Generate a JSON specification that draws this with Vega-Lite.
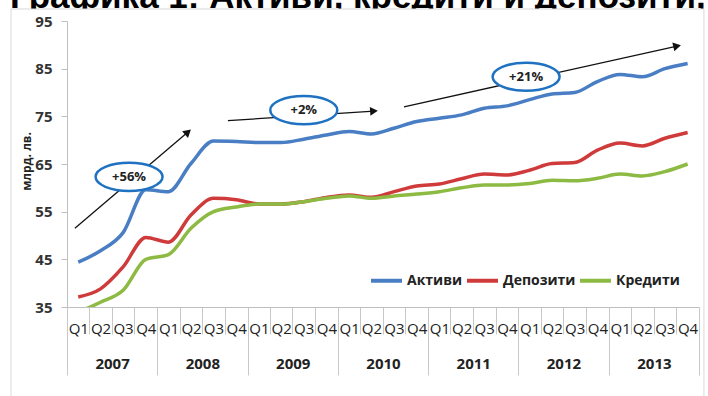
{
  "$schema": "https://vega.github.io/schema/vega-lite/v6.json",
  "width": 632,
  "height": 286,
  "autosize": {"type": "none"},
  "padding": {"left": 67, "top": 21, "right": 9, "bottom": 89},
  "background": "white",
  "config": {
    "view": {"stroke": null},
    "font": "Open Sans"
  },
  "datasets": {
    "series": [
      {"date": "2007-02-15T12:00:00", "Активи": 44.4, "Депозити": 37.1, "Кредити": 33.9},
      {"date": "2007-05-16T12:00:00", "Активи": 46.8, "Депозити": 38.8, "Кредити": 36.0},
      {"date": "2007-08-16T00:00:00", "Активи": 50.6, "Депозити": 43.4, "Кредити": 38.5},
      {"date": "2007-11-16T00:00:00", "Активи": 59.6, "Депозити": 49.6, "Кредити": 45.0},
      {"date": "2008-02-15T12:00:00", "Активи": 59.2, "Депозити": 48.6, "Кредити": 46.0},
      {"date": "2008-05-16T12:00:00", "Активи": 65.1, "Депозити": 54.3, "Кредити": 51.5},
      {"date": "2008-08-16T00:00:00", "Активи": 69.8, "Депозити": 57.8, "Кредити": 55.0},
      {"date": "2008-11-16T00:00:00", "Активи": 69.7, "Депозити": 57.5, "Кредити": 56.0},
      {"date": "2009-02-15T12:00:00", "Активи": 69.5, "Депозити": 56.6, "Кредити": 56.6},
      {"date": "2009-05-16T12:00:00", "Активи": 69.5, "Депозити": 56.6, "Кредити": 56.6},
      {"date": "2009-08-16T00:00:00", "Активи": 70.2, "Депозити": 57.1, "Кредити": 57.1},
      {"date": "2009-11-16T00:00:00", "Активи": 71.1, "Депозити": 58.0, "Кредити": 57.8},
      {"date": "2010-02-15T12:00:00", "Активи": 71.8, "Депозити": 58.5, "Кредити": 58.3},
      {"date": "2010-05-16T12:00:00", "Активи": 71.3, "Депозити": 58.0, "Кредити": 57.8},
      {"date": "2010-08-16T00:00:00", "Активи": 72.5, "Депозити": 59.2, "Кредити": 58.3},
      {"date": "2010-11-16T00:00:00", "Активи": 73.9, "Депозити": 60.4, "Кредити": 58.7},
      {"date": "2011-02-15T12:00:00", "Активи": 74.6, "Депозити": 60.8, "Кредити": 59.2},
      {"date": "2011-05-16T12:00:00", "Активи": 75.3, "Депозити": 61.9, "Кредити": 60.0},
      {"date": "2011-08-16T00:00:00", "Активи": 76.7, "Депозити": 62.9, "Кредити": 60.6},
      {"date": "2011-11-16T00:00:00", "Активи": 77.2, "Депозити": 62.7, "Кредити": 60.6},
      {"date": "2012-02-15T12:00:00", "Активи": 78.5, "Депозити": 63.7, "Кредити": 60.9},
      {"date": "2012-05-16T12:00:00", "Активи": 79.7, "Депозити": 65.1, "Кредити": 61.6},
      {"date": "2012-08-16T00:00:00", "Активи": 80.0, "Депозити": 65.3, "Кредити": 61.5},
      {"date": "2012-11-16T00:00:00", "Активи": 82.3, "Депозити": 67.9, "Кредити": 62.0},
      {"date": "2013-02-15T12:00:00", "Активи": 83.8, "Депозити": 69.4, "Кредити": 62.9},
      {"date": "2013-05-16T12:00:00", "Активи": 83.3, "Депозити": 68.8, "Кредити": 62.5},
      {"date": "2013-08-16T00:00:00", "Активи": 85.0, "Депозити": 70.4, "Кредити": 63.4},
      {"date": "2013-11-16T00:00:00", "Активи": 86.1, "Депозити": 71.6, "Кредити": 65.0}
    ],
    "arrows": [
      {"label": "+56%", "x1": 0.35, "y1": 51.5, "x2": 5.36, "y2": 71.7, "ex": 2.75, "ey": 62.3},
      {"label": "+2%", "x1": 7.13, "y1": 74.1, "x2": 13.6, "y2": 76.1, "ex": 10.49, "ey": 76.3},
      {"label": "+21%", "x1": 14.93, "y1": 77.0, "x2": 27.03, "y2": 89.75, "ex": 20.34, "ey": 83.3}
    ],
    "frame": [
      {"left": -2.48, "right": 28.22, "top": 97.52, "bottom": 15.0}
    ],
    "heading": [
      {"text": "Графика 1: Активи, кредити и депозити, млрд. лв.", "tx": -2.52, "ty": 97.73}
    ]
  },
  "layer": [
    {
      "data": {"name": "heading"},
      "mark": {"type": "text", "font": "Liberation Sans", "fontSize": 35, "fontWeight": "bold", "color": "#000000", "align": "left", "baseline": "alphabetic", "clip": false},
      "encoding": {
        "x": {"field": "tx", "type": "quantitative", "scale": {"domain": [0, 28], "nice": false, "zero": false}, "axis": null},
        "y": {"field": "ty", "type": "quantitative", "scale": {"domain": [35, 95], "nice": false, "zero": false}, "title": "млрд. лв."},
        "text": {"field": "text"}
      }
    },
    {
      "data": {"name": "frame"},
      "mark": {"type": "rect", "fill": "#FFFFFF", "stroke": "#D9D9D9", "strokeWidth": 1, "clip": false},
      "encoding": {
        "x": {"field": "left", "type": "quantitative", "scale": {"domain": [0, 28], "nice": false, "zero": false}, "axis": null},
        "x2": {"field": "right"},
        "y": {"field": "top", "type": "quantitative", "scale": {"domain": [35, 95], "nice": false, "zero": false}, "title": "млрд. лв."},
        "y2": {"field": "bottom"}
      }
    },
    {
      "data": {"name": "series"},
      "transform": [{"fold": ["Активи", "Депозити", "Кредити"], "as": ["series", "value"]}],
      "mark": {"type": "line", "interpolate": "monotone", "strokeWidth": 3.5, "clip": true},
      "encoding": {
        "x": {
          "field": "date",
          "type": "temporal",
          "scale": {"domain": [{"year": 2007, "month": 1, "date": 1}, {"year": 2014, "month": 1, "date": 1}]},
          "axis": {
            "orient": "bottom",
            "zindex": 1,
            "title": null,
            "grid": false,
            "values": [
              {"year": 2007, "month": 1, "date": 1}, {"year": 2007, "month": 4, "date": 1}, {"year": 2007, "month": 7, "date": 1}, {"year": 2007, "month": 10, "date": 1},
              {"year": 2008, "month": 1, "date": 1}, {"year": 2008, "month": 4, "date": 1}, {"year": 2008, "month": 7, "date": 1}, {"year": 2008, "month": 10, "date": 1},
              {"year": 2009, "month": 1, "date": 1}, {"year": 2009, "month": 4, "date": 1}, {"year": 2009, "month": 7, "date": 1}, {"year": 2009, "month": 10, "date": 1},
              {"year": 2010, "month": 1, "date": 1}, {"year": 2010, "month": 4, "date": 1}, {"year": 2010, "month": 7, "date": 1}, {"year": 2010, "month": 10, "date": 1},
              {"year": 2011, "month": 1, "date": 1}, {"year": 2011, "month": 4, "date": 1}, {"year": 2011, "month": 7, "date": 1}, {"year": 2011, "month": 10, "date": 1},
              {"year": 2012, "month": 1, "date": 1}, {"year": 2012, "month": 4, "date": 1}, {"year": 2012, "month": 7, "date": 1}, {"year": 2012, "month": 10, "date": 1},
              {"year": 2013, "month": 1, "date": 1}, {"year": 2013, "month": 4, "date": 1}, {"year": 2013, "month": 7, "date": 1}, {"year": 2013, "month": 10, "date": 1},
              {"year": 2014, "month": 1, "date": 1}
            ],
            "labelExpr": "year(datum.value) > 2013 ? '' : timeFormat(datum.value, 'Q%q')",
            "labelOffset": 11.3,
            "labelAlign": "center",
            "labelFlush": false,
            "labelOverlap": false,
            "labelBound": false,
            "labelAngle": 0,
            "labelFont": "Open Sans",
            "labelFontSize": 15,
            "labelColor": "#222222",
            "labelBaseline": "middle",
            "labelPadding": -6,
            "tickSize": 27,
            "tickColor": "#C8C8C8",
            "domainColor": "#BFBFBF"
          }
        },
        "y": {
          "field": "value",
          "type": "quantitative",
          "scale": {"domain": [35, 95], "nice": false, "zero": false},
          "title": "млрд. лв.",
          "axis": {
            "zindex": 1,
            "values": [35, 45, 55, 65, 75, 85, 95],
            "grid": false,
            "tickSize": 6,
            "tickColor": "#BFBFBF",
            "domainColor": "#BFBFBF",
            "labelFont": "Open Sans",
            "labelFontSize": 15,
            "labelFontWeight": "bold",
            "labelColor": "#333333",
            "labelPadding": 9,
            "titleFont": "Open Sans",
            "titleFontSize": 12,
            "titleFontWeight": "bold",
            "titleColor": "#222222",
            "titleX": -34,
            "titleY": 140
          }
        },
        "color": {
          "field": "series",
          "type": "nominal",
          "scale": {"domain": ["Активи", "Депозити", "Кредити"], "range": ["#4A7EC4", "#CF3B3B", "#8DBA42"]},
          "legend": {
            "orient": "none",
            "zindex": 1,
            "legendX": 302,
            "legendY": 242,
            "direction": "horizontal",
            "title": null,
            "symbolType": "stroke",
            "symbolSize": 961,
            "symbolStrokeWidth": 4,
            "labelFont": "Open Sans",
            "labelFontSize": 14,
            "labelFontWeight": "bold",
            "labelColor": "#222222",
            "labelOffset": 3,
            "columnPadding": -4
          }
        }
      }
    },
    {
      "data": {"name": "series"},
      "mark": {"type": "point", "opacity": 0},
      "encoding": {
        "x": {
          "field": "date",
          "type": "temporal",
          "scale": {"domain": [{"year": 2007, "month": 1, "date": 1}, {"year": 2014, "month": 1, "date": 1}]},
          "axis": {
            "orient": "bottom",
            "zindex": 1,
            "title": null,
            "grid": false,
            "domain": false,
            "values": [
              {"year": 2007, "month": 1, "date": 1}, {"year": 2008, "month": 1, "date": 1}, {"year": 2009, "month": 1, "date": 1},
              {"year": 2010, "month": 1, "date": 1}, {"year": 2011, "month": 1, "date": 1}, {"year": 2012, "month": 1, "date": 1},
              {"year": 2013, "month": 1, "date": 1}, {"year": 2014, "month": 1, "date": 1}
            ],
            "labelExpr": "year(datum.value) > 2013 ? '' : timeFormat(datum.value, '%Y')",
            "labelOffset": 45.1,
            "labelAlign": "center",
            "labelFlush": false,
            "labelOverlap": false,
            "labelBound": false,
            "labelAngle": 0,
            "labelFont": "Open Sans",
            "labelFontSize": 15,
            "labelFontWeight": "bold",
            "labelColor": "#222222",
            "labelBaseline": "middle",
            "labelPadding": -12,
            "tickSize": 68,
            "tickColor": "#C8C8C8"
          }
        }
      }
    },
    {
      "data": {"name": "arrows"},
      "mark": {"type": "rule", "color": "#111111", "strokeWidth": 1.3, "clip": false},
      "encoding": {
        "x": {"field": "x1", "type": "quantitative", "scale": {"domain": [0, 28], "nice": false, "zero": false}, "axis": null},
        "x2": {"field": "x2"},
        "y": {"field": "y1", "type": "quantitative", "scale": {"domain": [35, 95], "nice": false, "zero": false}, "title": "млрд. лв."},
        "y2": {"field": "y2"}
      }
    },
    {
      "data": {"name": "arrows"},
      "transform": [{"filter": "datum.label === '+56%'"}],
      "mark": {"type": "point", "shape": "triangle-up", "size": 80, "filled": true, "color": "#111111", "opacity": 1, "angle": 49, "clip": false},
      "encoding": {
        "x": {"field": "x2", "type": "quantitative", "scale": {"domain": [0, 28], "nice": false, "zero": false}, "axis": null},
        "y": {"field": "y2", "type": "quantitative", "scale": {"domain": [35, 95], "nice": false, "zero": false}, "title": "млрд. лв."}
      }
    },
    {
      "data": {"name": "arrows"},
      "transform": [{"filter": "datum.label === '+2%'"}],
      "mark": {"type": "point", "shape": "triangle-up", "size": 80, "filled": true, "color": "#111111", "opacity": 1, "angle": 86, "clip": false},
      "encoding": {
        "x": {"field": "x2", "type": "quantitative", "scale": {"domain": [0, 28], "nice": false, "zero": false}, "axis": null},
        "y": {"field": "y2", "type": "quantitative", "scale": {"domain": [35, 95], "nice": false, "zero": false}, "title": "млрд. лв."}
      }
    },
    {
      "data": {"name": "arrows"},
      "transform": [{"filter": "datum.label === '+21%'"}],
      "mark": {"type": "point", "shape": "triangle-up", "size": 80, "filled": true, "color": "#111111", "opacity": 1, "angle": 77, "clip": false},
      "encoding": {
        "x": {"field": "x2", "type": "quantitative", "scale": {"domain": [0, 28], "nice": false, "zero": false}, "axis": null},
        "y": {"field": "y2", "type": "quantitative", "scale": {"domain": [35, 95], "nice": false, "zero": false}, "title": "млрд. лв."}
      }
    },
    {
      "data": {"name": "arrows"},
      "mark": {"type": "point", "shape": "M-1,0A1,0.42,0,1,1,1,0A1,0.42,0,1,1,-1,0Z", "size": 4489, "filled": true, "fill": "#FFFFFF", "stroke": "#1F72C2", "strokeWidth": 2.5, "opacity": 1, "fillOpacity": 1, "clip": false},
      "encoding": {
        "x": {"field": "ex", "type": "quantitative", "scale": {"domain": [0, 28], "nice": false, "zero": false}, "axis": null},
        "y": {"field": "ey", "type": "quantitative", "scale": {"domain": [35, 95], "nice": false, "zero": false}, "title": "млрд. лв."}
      }
    },
    {
      "data": {"name": "arrows"},
      "mark": {"type": "text", "font": "Open Sans", "fontSize": 13, "fontWeight": "bold", "color": "#222222", "align": "center", "baseline": "middle", "clip": false},
      "encoding": {
        "x": {"field": "ex", "type": "quantitative", "scale": {"domain": [0, 28], "nice": false, "zero": false}, "axis": null},
        "y": {"field": "ey", "type": "quantitative", "scale": {"domain": [35, 95], "nice": false, "zero": false}, "title": "млрд. лв."},
        "text": {"field": "label"}
      }
    }
  ],
  "resolve": {"scale": {"x": "independent"}, "axis": {"x": "independent"}}
}
